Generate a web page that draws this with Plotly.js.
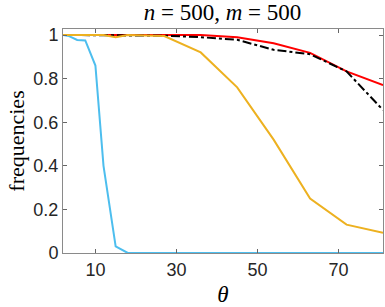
<!DOCTYPE html>
<html>
<head>
<meta charset="utf-8">
<script src="https://cdn.plot.ly/plotly-3.0.1.min.js"></script>
<style>html,body{margin:0;padding:0;background:#fff;}#chart{width:385px;height:307px;}</style>
</head>
<body>
<div id="chart"></div>
<script>
const theta = [2, 3.5, 5.5, 7.5, 10, 12, 15, 18, 27, 36, 45, 54, 63, 72, 81];
const redVals    = [1, 1, 1, 1, 1, 1, 1, 1, 1, 1, 0.99, 0.962, 0.918, 0.833, 0.77];
const blackVals  = [1, 1, 1, 1, 1, 1, 1, 1, 0.997, 0.99, 0.978, 0.932, 0.912, 0.833, 0.656];
const orangeVals = [1, 1, 1, 1, 1, 1, 0.99, 1, 0.995, 0.92, 0.76, 0.52, 0.25, 0.13, 0.093];
const blueVals   = [1, 0.995, 0.977, 0.975, 0.86, 0.4, 0.03, 0, 0, 0, 0, 0, 0, 0, 0];
const xTicks = [10, 30, 50, 70];
const yTicks = [0, 0.2, 0.4, 0.6, 0.8, 1];
const yTickText = ['0', '0.2', '0.4', '0.6', '0.8', '1'];

const traces = [
  {x: theta, y: blueVals, mode: 'lines', line: {color: '#4DBEEE', width: 2}},
  {x: theta, y: redVals, mode: 'lines', line: {color: '#FF0000', width: 2}},
  {x: theta, y: blackVals, mode: 'lines', line: {color: '#000000', width: 2, dash: 'dashdot'}},
  {x: theta, y: orangeVals, mode: 'lines', line: {color: '#EDB120', width: 2}}
];

const axisCommon = {
  showgrid: false, zeroline: false, showline: true, mirror: 'ticks',
  linecolor: '#8a8a8a', linewidth: 1, ticks: 'inside', ticklen: 4,
  tickcolor: '#666', tickfont: {family: 'Liberation Sans, Arial, sans-serif', size: 18, color: '#262626'}
};

const layout = {
  width: 385, height: 307,
  margin: {l: 63, r: 2, t: 29, b: 54},
  paper_bgcolor: '#fff', plot_bgcolor: '#fff',
  showlegend: false,
  title: {text: '<i>n</i> = 500, <i>m</i> = 500', x: 0.578, xanchor: 'center', y: 0.962, yanchor: 'middle',
          font: {family: 'Liberation Serif, Times New Roman, serif', size: 23, color: '#000'}},
  xaxis: Object.assign({}, axisCommon, {
    range: [2, 81], tickvals: xTicks, ticktext: xTicks.map(String),
    title: {text: '<i>θ</i>', standoff: 8, font: {family: 'Liberation Serif, Times New Roman, serif', size: 23, color: '#000'}}
  }),
  yaxis: Object.assign({}, axisCommon, {
    range: [0, 1.0275], tickvals: yTicks, ticktext: yTickText,
    title: {text: 'frequencies', standoff: 2, font: {family: 'Liberation Serif, Times New Roman, serif', size: 22, color: '#000'}}
  })
};

Plotly.newPlot('chart', traces, layout, {staticPlot: true, displayModeBar: false});
</script>
</body>
</html>
